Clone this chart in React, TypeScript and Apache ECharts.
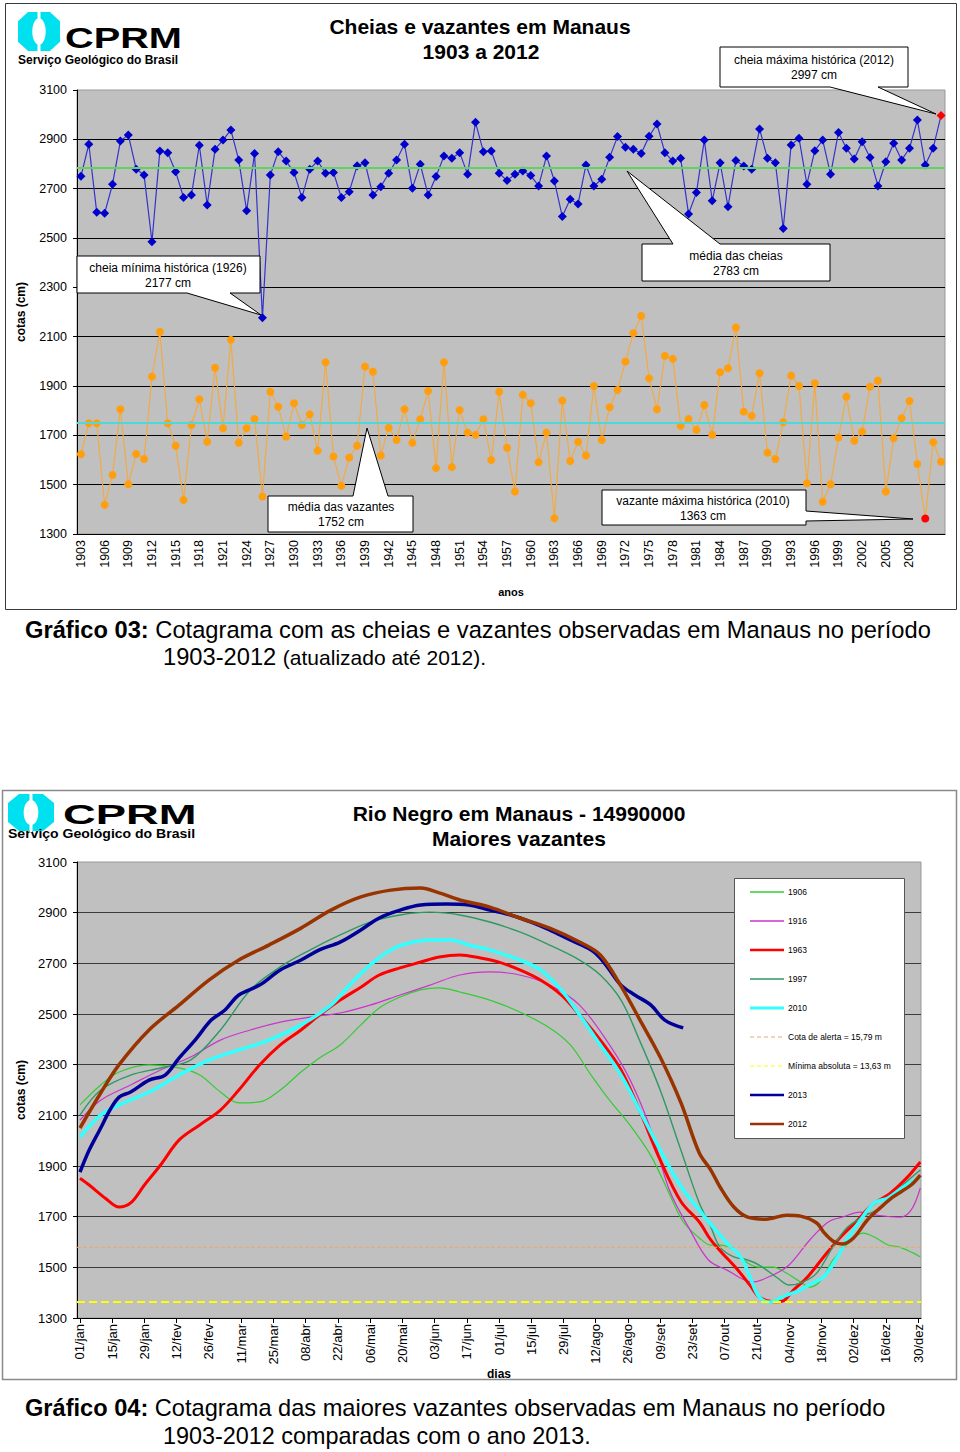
import React, { useEffect, useRef } from 'react';
import * as echarts from 'echarts';

const FONT = 'Liberation Sans, Arial, sans-serif';

// ---------- Gráfico 03: cheias e vazantes anuais ----------
const YEARS = [
  '1903','1904','1905','1906','1907','1908','1909','1910','1911','1912',
  '1913','1914','1915','1916','1917','1918','1919','1920','1921','1922',
  '1923','1924','1925','1926','1927','1928','1929','1930','1931','1932',
  '1933','1934','1935','1936','1937','1938','1939','1940','1941','1942',
  '1943','1944','1945','1946','1947','1948','1949','1950','1951','1952',
  '1953','1954','1955','1956','1957','1958','1959','1960','1961','1962',
  '1963','1964','1965','1966','1967','1968','1969','1970','1971','1972',
  '1973','1974','1975','1976','1977','1978','1979','1980','1981','1982',
  '1983','1984','1985','1986','1987','1988','1989','1990','1991','1992',
  '1993','1994','1995','1996','1997','1998','1999','2000','2001','2002',
  '2003','2004','2005','2006','2007','2008','2009','2010','2011','2012'
];

const CHEIAS = [
  2750, 2880, 2604, 2600, 2718, 2893, 2918, 2779, 2755, 2485,
  2853, 2846, 2769, 2664, 2674, 2876, 2634, 2860, 2897, 2938,
  2816, 2610, 2843, 2177, 2755, 2850, 2812, 2766, 2664, 2779,
  2812, 2762, 2766, 2664, 2688, 2793, 2805, 2674, 2708, 2762,
  2816, 2880, 2702, 2799, 2674, 2749, 2832, 2823, 2846, 2758,
  2969, 2850, 2853, 2762, 2733, 2758, 2772, 2753, 2711, 2832,
  2731, 2587, 2657, 2638, 2796, 2711, 2738, 2827, 2911, 2868,
  2860, 2843, 2912, 2962, 2846, 2812, 2823, 2597, 2684, 2897,
  2651, 2805, 2627, 2814, 2792, 2779, 2942, 2823, 2805, 2539,
  2877, 2904, 2718, 2854, 2897, 2758, 2928, 2864, 2820, 2890,
  2826, 2711, 2809, 2884, 2816, 2864, 2978, 2796, 2864, 2997
];

const VAZANTES = [
  1623, 1749, 1749, 1418, 1539, 1806, 1502, 1624, 1604, 1938,
  2120, 1749, 1658, 1438, 1742, 1846, 1674, 1974, 1729, 2087,
  1670, 1729, 1766, 1452, 1877, 1816, 1695, 1830, 1742, 1785,
  1638, 1996, 1614, 1495, 1610, 1658, 1979, 1958, 1618, 1731,
  1681, 1806, 1670, 1765, 1880, 1567, 1996, 1571, 1803, 1711,
  1702, 1765, 1600, 1877, 1650, 1472, 1864, 1830, 1591, 1711,
  1364, 1841, 1596, 1674, 1618, 1900, 1681, 1814, 1884, 1999,
  2114, 2184, 1931, 1806, 2022, 2010, 1739, 1766, 1722, 1823,
  1702, 1956, 1972, 2137, 1796, 1779, 1952, 1630, 1604, 1753,
  1942, 1900, 1506, 1911, 1431, 1502, 1691, 1857, 1678, 1715,
  1897, 1922, 1472, 1688, 1769, 1839, 1584, 1363, 1672, 1593
];

const MEDIA_CHEIAS = 2783;
const MEDIA_VAZANTES = 1752;
const ANO_CHEIA_MAXIMA = '2012';
const ANO_VAZANTE_MAXIMA = '2010';
const COTA_LABELS = ['1300', '1500', '1700', '1900', '2100', '2300', '2500', '2700', '2900', '3100'];

// ---------- Gráfico 04: maiores vazantes (dia do ano, cota em cm) ----------
const DAY_TICKS = [0, 14, 28, 42, 56, 70, 84, 98, 112, 126, 140, 154, 168, 182, 196, 210, 224, 238, 252, 266, 280, 294, 308, 322, 336, 350, 364];
const DAY_LABELS = ['01/jan', '15/jan', '29/jan', '12/fev', '26/fev', '11/mar', '25/mar', '08/abr', '22/abr', '06/mai', '20/mai', '03/jun', '17/jun', '01/jul', '15/jul', '29/jul', '12/ago', '26/ago', '09/set', '23/set', '07/out', '21/out', '04/nov', '18/nov', '02/dez', '16/dez', '30/dez'];

const S1906 = [
  [0, 2141], [9, 2220], [17, 2271], [30, 2299], [43, 2287], [52, 2259], [61, 2192], [69, 2149], [78, 2153],
  [87, 2200], [96, 2271], [104, 2326], [113, 2378], [122, 2457], [130, 2524], [139, 2567], [148, 2595],
  [156, 2603], [165, 2587], [178, 2555], [191, 2508], [204, 2445], [213, 2378], [222, 2259], [230, 2160],
  [239, 2060], [248, 1940], [256, 1790], [262, 1680], [269, 1616], [274, 1588], [278, 1588], [284, 1568],
  [290, 1517], [295, 1501], [301, 1501], [307, 1477], [313, 1442], [317, 1422], [322, 1450], [327, 1529],
  [335, 1608], [340, 1635], [345, 1620], [351, 1588], [356, 1580], [362, 1556], [365, 1541]
];
const S1916 = [
  [0, 2081], [9, 2160], [22, 2220], [35, 2279], [48, 2330], [61, 2397], [74, 2437], [87, 2468], [100, 2488],
  [113, 2504], [126, 2535], [139, 2575], [152, 2614], [165, 2654], [178, 2666], [191, 2654], [204, 2614],
  [217, 2535], [230, 2378], [239, 2239], [248, 2042], [256, 1805], [265, 1647], [273, 1529], [281, 1489],
  [292, 1442], [301, 1470], [308, 1509], [317, 1608], [325, 1679], [331, 1698], [339, 1718], [346, 1706],
  [356, 1698], [361, 1726], [365, 1813]
];
const S1963 = [
  [0, 1852], [4, 1825], [11, 1773], [17, 1738], [22, 1754], [28, 1825], [35, 1904], [43, 2002], [52, 2062],
  [61, 2121], [69, 2200], [78, 2299], [87, 2378], [96, 2437], [104, 2496], [113, 2555], [122, 2606],
  [130, 2654], [139, 2682], [148, 2705], [156, 2725], [165, 2733], [174, 2721], [182, 2705], [191, 2674],
  [200, 2634], [209, 2575], [217, 2496], [226, 2397], [235, 2279], [243, 2121], [252, 1924], [261, 1760],
  [269, 1679], [274, 1608], [279, 1556], [285, 1497], [291, 1430], [295, 1383], [301, 1364], [305, 1366],
  [310, 1411], [316, 1462], [323, 1541], [330, 1616], [337, 1679], [344, 1746], [352, 1793], [359, 1852],
  [365, 1916]
];
const S1997 = [
  [0, 2101], [9, 2200], [22, 2259], [35, 2287], [48, 2318], [61, 2437], [74, 2595], [87, 2686], [100, 2753],
  [113, 2812], [126, 2863], [139, 2891], [152, 2902], [165, 2891], [178, 2863], [191, 2824], [204, 2772],
  [217, 2713], [226, 2654], [235, 2555], [243, 2397], [252, 2200], [261, 1963], [269, 1754], [274, 1659],
  [278, 1580], [284, 1541], [290, 1529], [295, 1509], [303, 1458], [308, 1430], [314, 1442], [320, 1477],
  [327, 1580], [333, 1655], [339, 1694], [348, 1738], [356, 1813], [365, 1884]
];
const S2010 = [
  [0, 2014], [9, 2101], [17, 2141], [30, 2192], [43, 2259], [56, 2318], [69, 2358], [82, 2397], [96, 2457],
  [109, 2535], [117, 2614], [126, 2693], [135, 2753], [143, 2780], [152, 2792], [161, 2792], [169, 2772],
  [178, 2753], [191, 2713], [200, 2674], [209, 2595], [217, 2496], [226, 2378], [235, 2259], [243, 2121],
  [252, 1963], [261, 1820], [269, 1726], [275, 1659], [281, 1596], [287, 1541], [291, 1462], [295, 1383],
  [300, 1363], [305, 1383], [313, 1411], [318, 1438], [323, 1462], [329, 1541], [333, 1608], [339, 1687],
  [345, 1754], [351, 1774], [357, 1813], [365, 1856]
];
const S2013 = [
  [0, 1876], [4, 1963], [9, 2050], [13, 2121], [17, 2172], [22, 2192], [30, 2239], [37, 2259], [43, 2326],
  [50, 2397], [57, 2476], [63, 2516], [69, 2575], [78, 2614], [87, 2674], [96, 2713], [104, 2753],
  [113, 2784], [122, 2832], [130, 2879], [139, 2910], [148, 2930], [159, 2934], [169, 2930], [178, 2910],
  [187, 2891], [196, 2863], [204, 2832], [213, 2792], [222, 2753], [226, 2721], [230, 2674], [235, 2614],
  [241, 2575], [248, 2535], [254, 2476], [262, 2445]
];
const S2012 = [
  [0, 2050], [9, 2188], [17, 2300], [30, 2437], [43, 2535], [56, 2634], [69, 2713], [82, 2772], [96, 2839],
  [109, 2910], [122, 2962], [135, 2989], [148, 2997], [156, 2978], [165, 2950], [178, 2922], [191, 2879],
  [204, 2839], [217, 2784], [226, 2733], [235, 2610], [243, 2480], [252, 2330], [261, 2150], [269, 1951],
  [274, 1884], [278, 1817], [284, 1738], [290, 1698], [298, 1690], [307, 1706], [313, 1702], [320, 1675],
  [323, 1639], [327, 1604], [331, 1592], [336, 1616], [342, 1687], [348, 1738], [353, 1777], [361, 1825],
  [365, 1864]
];
const COTA_ALERTA = 1579;
const MINIMA_ABSOLUTA = 1363;
const X_MIN = -1.3;
const X_MAX = 365.3;

// series definitions of Gráfico 04 (legend order)
const BOTTOM_SERIES = [
  { name: '1906', data: S1906, color: '#33CC33', width: 1.2, legendWidth: 1.5, type: 'solid' },
  { name: '1916', data: S1916, color: '#CC33CC', width: 1.2, legendWidth: 1.5, type: 'solid' },
  { name: '1963', data: S1963, color: '#FF0000', width: 3, legendWidth: 2.5, type: 'solid' },
  { name: '1997', data: S1997, color: '#2E9960', width: 1.4, legendWidth: 1.5, type: 'solid' },
  { name: '2010', data: S2010, color: '#33FFFF', width: 3.5, legendWidth: 3, type: 'solid' },
  { name: 'Cota de alerta = 15,79 m', data: [[X_MIN, COTA_ALERTA], [X_MAX, COTA_ALERTA]], color: '#E8A868', width: 1, legendWidth: 1, type: 'dashed' },
  { name: 'Mínima absoluta = 13,63 m', data: [[X_MIN, MINIMA_ABSOLUTA], [X_MAX, MINIMA_ABSOLUTA]], color: '#FFFF00', width: 2, legendWidth: 1, type: 'dashed' },
  { name: '2013', data: S2013, color: '#000099', width: 3.5, legendWidth: 2.5, type: 'solid' },
  { name: '2012', data: S2012, color: '#993300', width: 3.5, legendWidth: 2.5, type: 'solid' }
];

// ---------- helpers for decorative graphics ----------
function logo(x: number, y: number, w: number, h: number) {
  const c = w * 0.24;
  const cv = h * 0.24;
  return [
    {
      type: 'polygon', z: 100,
      shape: { points: [[x + c, y], [x + w - c, y], [x + w, y + cv], [x + w, y + h - cv], [x + w - c, y + h], [x + c, y + h], [x, y + h - cv], [x, y + cv]] },
      style: { fill: '#00E1F0' }
    },
    { type: 'ellipse', z: 101, shape: { cx: x + w / 2, cy: y + h / 2, rx: w * 0.16, ry: h * 0.34 }, style: { fill: '#fff' } },
    { type: 'rect', z: 101, shape: { x: x + w / 2 - 1.5, y: y - 1, width: 3, height: h + 2 }, style: { fill: '#fff' } }
  ];
}

function callout(points: number[][], lines: string[], cx: number, cy: number) {
  return [
    { type: 'polygon', z: 100, shape: { points }, style: { fill: '#fff', stroke: '#000', lineWidth: 1 } },
    {
      type: 'text', z: 101, x: cx, y: cy,
      style: { text: lines.join('\n'), font: `12px ${FONT}`, fill: '#000', align: 'center', verticalAlign: 'middle', lineHeight: 15 }
    }
  ];
}

function txt(x: number, y: number, text: string, font: string, align = 'center', extra: any = {}) {
  return { type: 'text', z: 100, x, y, ...extra, style: { text, font, fill: '#000', align, verticalAlign: 'middle' } };
}

function legendBox() {
  const els: any[] = [
    { type: 'rect', z: 100, shape: { x: 734.5, y: 878.5, width: 170, height: 260 }, style: { fill: '#fff', stroke: '#555', lineWidth: 1 } }
  ];
  BOTTOM_SERIES.forEach((s, i) => {
    const y = 892 + 29 * i;
    els.push({
      type: 'line', z: 101, shape: { x1: 750, y1: y, x2: 784, y2: y },
      style: { stroke: s.color, lineWidth: s.legendWidth, lineDash: s.type === 'dashed' ? [4, 3] : null }
    });
    els.push({ type: 'text', z: 101, x: 788, y, style: { text: s.name, font: `8.5px ${FONT}`, fill: '#000', align: 'left', verticalAlign: 'middle' } });
  });
  return els;
}

function buildOption() {
  const cheiasData = CHEIAS.map((v, i) => (YEARS[i] === ANO_CHEIA_MAXIMA ? { value: v, itemStyle: { color: '#FF0000' } } : v));
  const vazantesData = VAZANTES.map((v, i) => (YEARS[i] === ANO_VAZANTE_MAXIMA ? { value: v, itemStyle: { color: '#FF0000' } } : v));

  const displayY = (gridIndex: number, fontSize: number, gridColor: string) => ({
    type: 'value', gridIndex, min: 0, max: 1800, interval: 200, position: 'left',
    axisLine: { show: true, onZero: false, lineStyle: { color: '#000' } },
    axisTick: { show: true, length: 4, lineStyle: { color: '#000' } },
    axisLabel: { formatter: (v: number) => COTA_LABELS[Math.round(v / 200)], fontSize, color: '#000', margin: 10, fontFamily: FONT },
    splitLine: { show: true, showMaxLine: false, lineStyle: { color: gridColor, width: 1 } },
    name: 'cotas (cm)', nameLocation: 'middle', nameGap: 50, nameRotate: 90,
    nameTextStyle: { fontWeight: 'bold', fontSize: 12, color: '#000', fontFamily: FONT }
  });

  const graphic: any[] = [
    // frames
    { type: 'rect', z: 99, shape: { x: 5.5, y: 3.5, width: 951, height: 606 }, style: { fill: 'none', stroke: '#3a3a3a', lineWidth: 1 } },
    { type: 'rect', z: 99, shape: { x: 2.5, y: 790.5, width: 954, height: 589 }, style: { fill: 'none', stroke: '#8a8a8a', lineWidth: 1.5 } },
    // top logo
    ...logo(18, 12, 42, 39),
    txt(65, 38, 'CPRM', `bold 29px ${FONT}`, 'left', { scaleX: 1.37 }),
    txt(18, 60, 'Serviço Geológico do Brasil', `bold 12px ${FONT}`, 'left'),
    // top titles
    txt(480, 26, 'Cheias e vazantes em Manaus', `bold 21px ${FONT}`),
    txt(481, 51, '1903 a 2012', `bold 21px ${FONT}`),
    // callouts
    ...callout([[720, 47], [908, 47], [908, 87], [878, 87], [936, 114], [830, 87], [720, 87]], ['cheia máxima histórica (2012)', '2997 cm'], 814, 67),
    ...callout([[77, 256], [260, 256], [260, 293], [230, 293], [261, 315], [187, 293], [77, 293]], ['cheia mínima histórica (1926)', '2177 cm'], 168, 275),
    ...callout([[642, 244], [673, 244], [627, 171], [720, 244], [830, 244], [830, 281], [642, 281]], ['média das cheias', '2783 cm'], 736, 263),
    ...callout([[268, 496], [353, 496], [367, 428], [388, 496], [413, 496], [413, 532], [268, 532]], ['média das vazantes', '1752 cm'], 341, 514),
    ...callout([[602, 490], [806, 490], [806, 511], [913, 519], [806, 521], [806, 525], [602, 525]], ['vazante máxima histórica (2010)', '1363 cm'], 703, 508),
    // caption 03
    {
      type: 'text', z: 100, x: 25, y: 630,
      style: { text: '{b|Gráfico 03:} Cotagrama com as cheias e vazantes observadas em Manaus no período', font: `23.7px ${FONT}`, fill: '#000', align: 'left', verticalAlign: 'middle', rich: { b: { fontWeight: 'bold', fontSize: 23.7, fontFamily: FONT } } }
    },
    {
      type: 'text', z: 100, x: 163, y: 657,
      style: { text: '1903-2012 {s|(atualizado até 2012).}', font: `23.7px ${FONT}`, fill: '#000', align: 'left', verticalAlign: 'middle', rich: { s: { fontSize: 21, fontFamily: FONT } } }
    },
    // bottom logo
    ...logo(8, 794, 46, 37),
    txt(63, 814, 'CPRM', `bold 28px ${FONT}`, 'left', { scaleX: 1.62 }),
    txt(8, 834, 'Serviço Geológico do Brasil', `bold 13px ${FONT}`, 'left', { scaleX: 1.08 }),
    txt(519, 813, 'Rio Negro em Manaus - 14990000', `bold 21px ${FONT}`),
    txt(519, 838, 'Maiores vazantes', `bold 21px ${FONT}`),
    ...legendBox(),
    // caption 04
    {
      type: 'text', z: 100, x: 25, y: 1408,
      style: { text: '{b|Gráfico 04:} Cotagrama das maiores vazantes observadas em Manaus no período', font: `23.6px ${FONT}`, fill: '#000', align: 'left', verticalAlign: 'middle', rich: { b: { fontWeight: 'bold', fontSize: 23.6, fontFamily: FONT } } }
    },
    txt(163, 1436, '1903-2012 comparadas com o ano 2013.', `23.4px ${FONT}`, 'left')
  ];

  return {
    animation: false,
    backgroundColor: '#fff',
    textStyle: { fontFamily: FONT },
    grid: [
      { left: 77, top: 90, width: 868, height: 444, show: true, backgroundColor: '#C0C0C0', borderColor: '#999', borderWidth: 1 },
      { left: 77, top: 862, width: 844, height: 456, show: true, backgroundColor: '#C0C0C0', borderColor: '#999', borderWidth: 1 }
    ],
    xAxis: [
      {
        type: 'category', gridIndex: 0, data: YEARS, boundaryGap: true,
        axisLine: { onZero: false, lineStyle: { color: '#000' } },
        axisTick: { interval: 0, length: 4, lineStyle: { color: '#000' } },
        axisLabel: { interval: (i: number) => i % 3 === 0 && i <= 105, rotate: 90, fontSize: 12.5, color: '#000', margin: 6, fontFamily: FONT },
        splitLine: { show: false },
        name: 'anos', nameLocation: 'middle', nameGap: 52,
        nameTextStyle: { fontWeight: 'bold', fontSize: 11, color: '#000', fontFamily: FONT }
      },
      {
        type: 'value', gridIndex: 1, min: X_MIN, max: X_MAX,
        axisLine: { onZero: false, lineStyle: { color: '#000' } },
        axisTick: { show: true, customValues: DAY_TICKS, length: 5, lineStyle: { color: '#000' } },
        axisLabel: {
          customValues: DAY_TICKS, rotate: 90, fontSize: 13, color: '#000', margin: 6, fontFamily: FONT,
          formatter: (v: number) => { const k = DAY_TICKS.indexOf(Math.round(v)); return k >= 0 ? DAY_LABELS[k] : ''; }
        },
        splitLine: { show: false },
        name: 'dias', nameLocation: 'middle', nameGap: 49,
        nameTextStyle: { fontWeight: 'bold', fontSize: 12, color: '#000', fontFamily: FONT }
      }
    ],
    yAxis: [
      { type: 'value', gridIndex: 0, min: 1300, max: 3100, show: false, axisLine: { onZero: false } },
      displayY(0, 12.5, '#000'),
      { type: 'value', gridIndex: 1, min: 1300, max: 3100, show: false, axisLine: { onZero: false } },
      displayY(1, 13, '#3c3c3c')
    ],
    series: [
      {
        name: 'Cheias', type: 'line', xAxisIndex: 0, yAxisIndex: 0, data: cheiasData,
        symbol: 'diamond', symbolSize: 9, showAllSymbol: true,
        itemStyle: { color: '#0000CC' }, lineStyle: { color: '#3333CC', width: 1.2 },
        markLine: { silent: true, symbol: ['none', 'none'], label: { show: false }, lineStyle: { color: '#5FD35F', width: 2, type: 'solid' }, data: [{ yAxis: MEDIA_CHEIAS }] }
      },
      {
        name: 'Vazantes', type: 'line', xAxisIndex: 0, yAxisIndex: 0, data: vazantesData,
        symbol: 'circle', symbolSize: 8, showAllSymbol: true,
        itemStyle: { color: '#FF9E0F' }, lineStyle: { color: '#F2AA45', width: 1.2 },
        markLine: { silent: true, symbol: ['none', 'none'], label: { show: false }, lineStyle: { color: '#4FD8D8', width: 2, type: 'solid' }, data: [{ yAxis: MEDIA_VAZANTES }] }
      },
      ...BOTTOM_SERIES.map((s) => ({
        name: s.name, type: 'line', xAxisIndex: 1, yAxisIndex: 2, data: s.data, symbol: 'none',
        smooth: s.type === 'dashed' ? false : 0.35,
        itemStyle: { color: s.color }, lineStyle: { color: s.color, width: s.width, type: s.type }
      }))
    ],
    graphic
  };
}

export default function App() {
  const ref = useRef<HTMLDivElement>(null);
  useEffect(() => {
    if (!ref.current) return;
    const chart = echarts.init(ref.current, null, { renderer: 'svg' });
    chart.setOption(buildOption() as any);
    return () => chart.dispose();
  }, []);
  return <div ref={ref} style={{ position: 'absolute', left: 0, top: 0, width: 960, height: 1452, background: '#fff' }} />;
}
